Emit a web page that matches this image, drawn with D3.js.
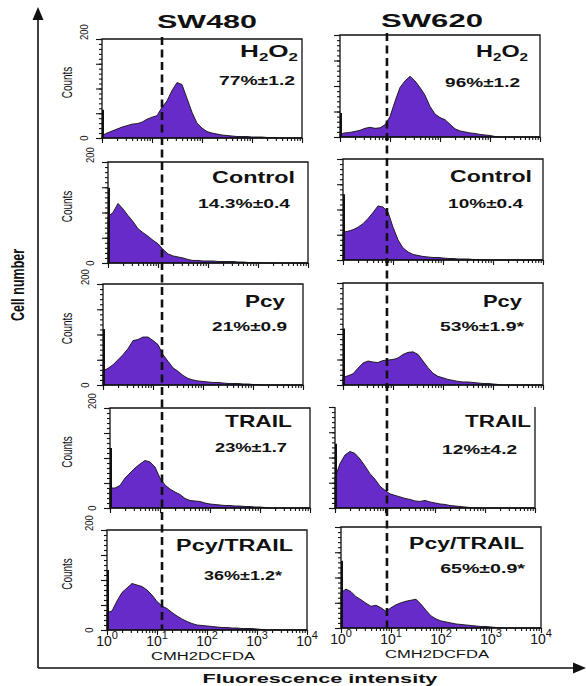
<!DOCTYPE html>
<html>
<head>
<meta charset="utf-8">
<script src="https://cdn.jsdelivr.net/npm/d3@7"></script>
<style>
  body { margin: 0; background: #fff; }
  text { font-family: "Liberation Sans", Arial, sans-serif; fill: #111; }
</style>
</head>
<body>
<script>
// Data
//= ================================
var cellLines = ["SW480", "SW620"];
var treatments = ["H2O2", "Control", "Pcy", "TRAIL", "Pcy/TRAIL"];
var percent480 = ["77%±1.2", "14.3%±0.4", "21%±0.9", "23%±1.7", "36%±1.2*"];
var percent620 = ["96%±1.2", "10%±0.4", "53%±1.9*", "12%±4.2", "65%±0.9*"];
var xTickExponents = [0, 1, 2, 3, 4];
var yMax = 200;
var binStep = 0.1; // histogram bins, in decades of log10 intensity
var gateValues = [12.6, 8.3]; // dashed marker per cell line

// counts per bin, bins at 10^0, 10^0.1 ... 10^4
var sw480H2O2   = [5,10,14,18,22,25,28,29,32,38,42,45,62,75,96,112,108,80,52,30,20,13,10,8,6,5,4,3,3,3,2,2,2,1,1,0,0,0,0,0,0];
var sw480Control = [92,100,118,107,94,82,68,60,53,45,38,27,18,14,12,10,7,5,5,4,4,4,3,3,3,3,2,2,1,1,1,0,0,0,0,0,0,0,0,0,0];
var sw480Pcy    = [28,33,40,50,60,72,88,90,95,95,88,80,60,47,34,27,19,13,10,8,7,6,5,5,4,3,3,3,2,2,1,1,0,0,0,0,0,0,0,0,0];
var sw480Trail  = [40,40,45,60,70,80,88,95,92,82,60,46,38,32,27,19,15,14,13,10,8,7,6,5,5,4,4,3,3,2,2,1,0,0,0,0,0,0,0,0,0];
var sw480Combo  = [35,38,58,75,84,93,90,87,80,70,57,48,43,35,28,22,17,13,10,9,8,7,6,5,5,4,4,3,3,3,2,1,0,0,0,0,0,0,0,0,0];
var sw620H2O2   = [6,8,9,11,13,17,19,17,18,24,40,70,97,110,119,110,97,82,60,45,38,34,25,16,12,10,8,7,5,4,3,1,0,0,0,0,0,0,0,0,0];
var sw620Control = [55,57,60,65,72,82,94,107,105,95,65,40,24,16,11,9,7,6,5,5,4,3,3,2,2,2,1,1,0,0,0,0,0,0,0,0,0,0,0,0,0];
var sw620Pcy    = [15,18,22,33,43,47,45,44,48,49,50,53,60,64,65,60,47,34,23,17,14,11,9,7,6,6,5,4,3,3,2,1,0,0,0,0,0,0,0,0,0];
var sw620Trail  = [60,88,105,112,108,97,83,68,57,43,35,28,25,22,19,17,14,13,15,12,10,8,7,5,4,3,2,1,0,0,0,0,0,0,0,0,0,0,0,0,0];
var sw620Combo  = [70,77,72,62,56,49,43,45,40,33,40,46,50,53,55,57,47,35,24,18,14,12,10,8,7,6,5,4,3,3,2,1,0,0,0,0,0,0,0,0,0];

// pile-up of events in the first channel (spike at the left edge)
var spike480 = [57, 149, 111, 120, 120];
var spike620 = [47, 130, 111, 127, 133];

var counts = [
    [sw480H2O2, sw480Control, sw480Pcy, sw480Trail, sw480Combo],
    [sw620H2O2, sw620Control, sw620Pcy, sw620Trail, sw620Combo]
];
var spikes = [spike480, spike620];
var percents = [percent480, percent620];

// Layout
//= ================================
var svgWidth = 586, svgHeight = 686;
var boxWidth = 200;
var boxLeft   = [[102, 108, 103, 110, 107], [340, 343, 343, 335, 341]];
var boxTop    = [[39, 162, 284, 408, 530], [35, 159, 283, 407, 527]];
var boxBottom = [[138, 263, 385, 508, 630], [137, 260, 385, 508, 628]];
// label anchors: [right x, baseline y, width]
var nameLayout = [
    [[298, 57, 58], [295, 183, 83], [285, 307, 40], [292, 427, 67], [293, 551, 117]],
    [[528, 57, 52], [532, 182, 82], [522, 307, 39], [531, 427, 66], [524, 549, 115]]
];
var pctLayout = [
    [[295, 85, 76], [290, 208, 92], [287, 331, 75], [287, 452, 72], [282, 580, 78]],
    [[520, 87, 75], [523, 208, 75], [524, 331, 84], [517, 454, 75], [525, 573, 85]]
];
var purple = "#662bc9";

var svg = d3.select("body").append("svg")
    .attr("width", svgWidth)
    .attr("height", svgHeight);

// text that is stretched horizontally to a measured width
function fitText(x, y, anchor, width, build) {
    var g = svg.append("g").attr("transform", `translate(${x},${y})`);
    var t = g.append("text").attr("text-anchor", anchor);
    build(t);
    var w = t.node().getComputedTextLength();
    g.attr("transform", `translate(${x},${y}) scale(${width / w},1)`);
    return t;
}

function rotatedText(x, y, anchor, sx, size, weight, str) {
    svg.append("g")
        .attr("transform", `translate(${x},${y}) scale(${sx},1) rotate(-90)`)
        .append("text")
        .attr("text-anchor", anchor)
        .style("font-size", size + "px")
        .style("font-weight", weight)
        .text(str);
}

function nameText(t, name) {
    t.style("font-size", "17px").style("font-weight", "bold");
    if (name === "H2O2") {
        t.append("tspan").text("H");
        t.append("tspan").attr("dy", 4).style("font-size", "11px").text("2");
        t.append("tspan").attr("dy", -4).text("O");
        t.append("tspan").attr("dy", 4).style("font-size", "11px").text("2");
    } else {
        t.text(name);
    }
}

// column scales (bottom row) used for the dashed gate line
var colScale = cellLines.map(function (c, k) {
    return d3.scaleLog().domain([1, 1e4]).range([boxLeft[k][4], boxLeft[k][4] + boxWidth]);
});

// Panels
//= ================================
cellLines.forEach(function (line, k) {
    treatments.forEach(function (name, r) {
        var left = boxLeft[k][r], top = boxTop[k][r], bottom = boxBottom[k][r];
        var x = d3.scaleLog().domain([1, 1e4]).range([left, left + boxWidth]);
        var y = d3.scaleLinear().domain([0, yMax]).range([bottom, top]);

        svg.append("rect")
            .attr("x", left).attr("y", top)
            .attr("width", boxWidth).attr("height", bottom - top)
            .attr("fill", "#fff");

        var area = d3.area()
            .x(function (d, i) { return x(Math.pow(10, i * binStep)); })
            .y0(y(0))
            .y1(function (d) { return y(d); });

        svg.append("path")
            .datum(counts[k][r])
            .attr("d", area)
            .attr("fill", purple)
            .attr("stroke", "#111")
            .attr("stroke-width", 0.9)
            .attr("stroke-linejoin", "round");

        svg.append("line")
            .attr("x1", x(1) + 1).attr("x2", x(1) + 1)
            .attr("y1", y(0)).attr("y2", y(spikes[k][r]))
            .attr("stroke", "#111").attr("stroke-width", 2);

        // frame (TRAIL / SW620 has no top edge)
        var openTop = (k === 1 && r === 3);
        svg.append("path")
            .attr("d", openTop
                ? `M${left},${top}V${bottom}H${left + boxWidth}V${top}`
                : `M${left},${top}V${bottom}H${left + boxWidth}V${top}Z`)
            .attr("fill", "none")
            .attr("stroke", "#111")
            .attr("stroke-width", 1.3);

        // y ticks
        var yMinor = d3.axisLeft(y).tickValues(d3.range(0, yMax + 1, 10)).tickSize(3).tickFormat("");
        var yMajor = d3.axisLeft(y).tickValues(d3.range(0, yMax + 1, 50)).tickSize(6).tickFormat("");
        [yMinor, yMajor].forEach(function (ax) {
            var g = svg.append("g").attr("transform", `translate(${left},0)`).call(ax);
            g.select(".domain").remove();
            g.selectAll("line").attr("stroke", "#111").attr("stroke-width", 1.1);
        });

        // x ticks
        var xMinor = d3.axisBottom(x).tickValues(x.ticks()).tickSize(3).tickFormat("");
        var xMajor = d3.axisBottom(x).tickValues(xTickExponents.map(function (e) { return Math.pow(10, e); }))
            .tickSize(5).tickFormat("");
        [xMinor, xMajor].forEach(function (ax) {
            var g = svg.append("g").attr("transform", `translate(0,${bottom})`).call(ax);
            g.select(".domain").remove();
            g.selectAll("line").attr("stroke", "#111").attr("stroke-width", 1.1);
        });

        // y labels only on the SW480 column
        if (k === 0) {
            rotatedText(left - 14, top + 1, "start", 1.15, 9.5, "normal", String(yMax));
            rotatedText(left - 14, bottom, "middle", 1.15, 9.5, "normal", "0");
            rotatedText(72, (top + bottom) / 2 - 6, "middle", 1.4, 10, "normal", "Counts");
        }

        // labels
        var nl = nameLayout[k][r];
        fitText(nl[0], nl[1], "end", nl[2], function (t) { nameText(t, name); });
        var pl = pctLayout[k][r];
        fitText(pl[0], pl[1], "end", pl[2], function (t) {
            t.style("font-size", "13px").style("font-weight", "bold").text(percents[k][r]);
        });

        // decade labels under the last row
        if (r === treatments.length - 1) {
            xTickExponents.forEach(function (e) {
                var t = svg.append("text")
                    .attr("x", x(Math.pow(10, e)))
                    .attr("y", bottom + 16)
                    .attr("text-anchor", "middle")
                    .style("font-size", "14px");
                t.append("tspan").text("10");
                t.append("tspan").attr("dy", -7).style("font-size", "11px").text(e);
            });
            fitText(left + boxWidth / 2 - 4, bottom + 30, "middle", 104, function (t) {
                t.style("font-size", "11.5px").text("CMH2DCFDA");
            });
        }
    });
});

// gate lines
cellLines.forEach(function (line, k) {
    svg.append("line")
        .attr("x1", colScale[k](gateValues[k])).attr("x2", colScale[k](gateValues[k]))
        .attr("y1", boxTop[k][0] - 2).attr("y2", boxBottom[k][4])
        .attr("stroke", "#111")
        .attr("stroke-width", 2.6)
        .attr("stroke-dasharray", "8,4.5");
});

// titles
fitText(207, 28, "middle", 100, function (t) {
    t.style("font-size", "19px").style("font-weight", "bold").text(cellLines[0]);
});
fitText(432, 27, "middle", 102, function (t) {
    t.style("font-size", "19px").style("font-weight", "bold").text(cellLines[1]);
});

// outer arrows
var axisX = 38, axisY = 668;
svg.append("path")
    .attr("d", `M${axisX},${axisY}V18M${axisX},${axisY}H${svgWidth - 10}`)
    .attr("fill", "none").attr("stroke", "#111").attr("stroke-width", 1.6);
svg.append("path")
    .attr("d", `M${axisX},7L${axisX - 5.5},20H${axisX + 5.5}Z`)
    .attr("fill", "#111");
svg.append("path")
    .attr("d", `M${svgWidth},${axisY}L${svgWidth - 13},${axisY - 5.5}V${axisY + 5.5}Z`)
    .attr("fill", "#111");

fitText(320, 683, "middle", 235, function (t) {
    t.style("font-size", "12.5px").style("font-weight", "bold").text("Fluorescence intensity");
});
rotatedText(24, 285, "middle", 1.4, 12.5, "bold", "Cell number");
</script>
</body>
</html>
